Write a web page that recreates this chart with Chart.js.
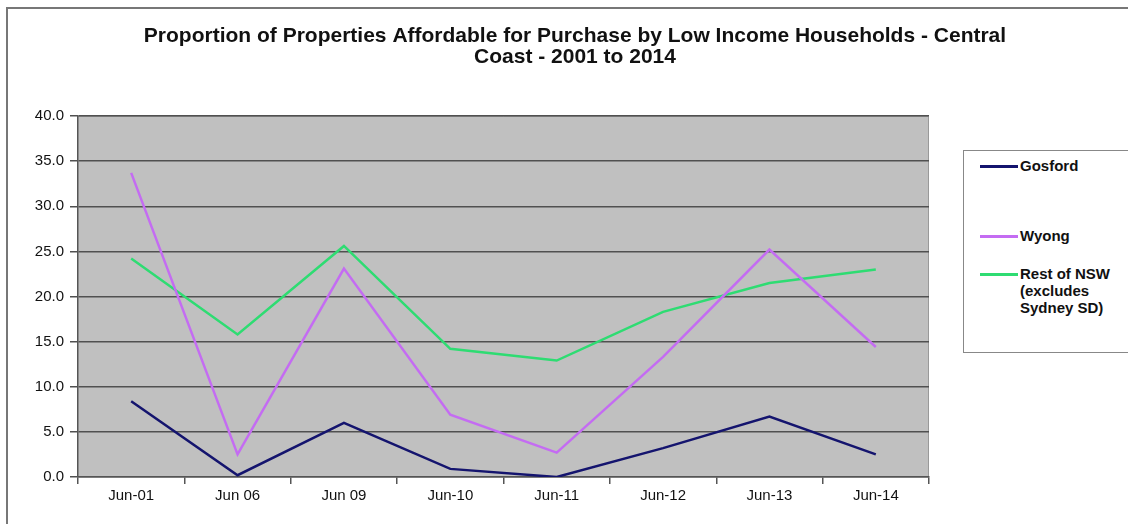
<!DOCTYPE html>
<html>
<head>
<meta charset="utf-8">
<script src="https://cdn.jsdelivr.net/npm/chart.js@4/dist/chart.umd.min.js"></script>
<style>
  html, body { margin: 0; padding: 0; background: #fff; }
  #wrap { position: relative; width: 1128px; height: 524px; }
  #frame { position: absolute; left: 6px; top: 7px; right: 0; bottom: 0;
    border-left: 2px solid #777; border-top: 2px solid #777; pointer-events: none; }
  #legend { position: absolute; left: 963px; top: 150px; width: 170px; height: 201px;
    border: 1px solid #888; background: #fff;
    font: bold 15px "Liberation Sans", Arial, sans-serif; color: #111; }
  .item { position: absolute; left: 16px; display: flex; align-items: flex-start; }
  .swatch { width: 38px; height: 3px; margin-top: 8px; margin-right: 2px; }
</style>
</head>
<body>
<div id="wrap">
  <canvas id="chart" width="1128" height="524"></canvas>
  <div id="frame"></div>
  <div id="legend"></div>
</div>
<script>
// data
const categories = ['Jun-01', 'Jun 06', 'Jun 09', 'Jun-10', 'Jun-11', 'Jun-12', 'Jun-13', 'Jun-14'];
const gosford = [8.4, 0.2, 6.0, 0.9, 0.0, 3.2, 6.7, 2.5];
const wyong = [33.7, 2.5, 23.1, 6.9, 2.7, 13.3, 25.2, 14.4];
const restOfNsw = [24.2, 15.8, 25.6, 14.2, 12.9, 18.3, 21.5, 23.0];
const seriesNames = ['Gosford', 'Wyong', ['Rest of NSW', '(excludes', 'Sydney SD)']];
const yTicks = [0, 5, 10, 15, 20, 25, 30, 35, 40];

const colors = ['#14146e', '#c46cf2', '#2edc72'];
const FONT = '"Liberation Sans", Arial, sans-serif';

const plotBg = {
  id: 'plotBg',
  beforeDraw(chart) {
    const a = chart.chartArea, ctx = chart.ctx;
    ctx.save();
    ctx.fillStyle = '#c0c0c0';
    ctx.fillRect(a.left, a.top, a.right - a.left, a.bottom - a.top);
    ctx.strokeStyle = '#999';
    ctx.lineWidth = 1;
    ctx.beginPath();
    ctx.moveTo(a.left, a.top + 0.5);
    ctx.lineTo(a.right - 0.5, a.top + 0.5);
    ctx.lineTo(a.right - 0.5, a.bottom);
    ctx.stroke();
    ctx.restore();
  }
};

const chart = new Chart(document.getElementById('chart'), {
  type: 'line',
  data: {
    labels: categories,
    datasets: [gosford, wyong, restOfNsw].map((d, i) => ({
      label: seriesNames[i],
      data: d,
      borderColor: colors[i],
      backgroundColor: colors[i],
      borderWidth: 2.5,
      pointRadius: 0,
      tension: 0
    }))
  },
  options: {
    responsive: false,
    animation: false,
    layout: { padding: { left: 22, right: 0, top: 0, bottom: 16 } },
    plugins: {
      legend: { display: false },
      tooltip: { enabled: false },
      title: {
        display: true,
        text: ['Proportion of Properties Affordable for Purchase by Low Income Households - Central', 'Coast - 2001 to 2014'],
        color: '#111',
        font: { family: FONT, size: 21, weight: 'bold', lineHeight: 1.0 },
        padding: { top: 26, bottom: 48 }
      }
    },
    scales: {
      x: {
        offset: true,
        grid: { offset: true, drawOnChartArea: false, drawTicks: true, tickLength: 7, color: '#555', lineWidth: 1.5 },
        border: { color: '#555', width: 1.5 },
        ticks: { color: '#111', font: { family: FONT, size: 15 }, padding: 3, maxRotation: 0 }
      },
      y: {
        min: 0, max: 40,
        afterFit(s) { s.width = 56; },
        afterBuildTicks(s) { s.ticks = yTicks.map(v => ({ value: v })); },
        grid: { color: '#505050', lineWidth: 1.5, drawTicks: true, tickLength: 8 },
        border: { color: '#555', width: 1.5 },
        ticks: { color: '#111', font: { family: FONT, size: 15 }, padding: 6,
          callback: v => v.toFixed(1) }
      },
      // empty axis on the right that reserves room for the legend box
      side: {
        position: 'right',
        min: 0, max: 40,
        afterFit(s) { s.width = 199; },
        grid: { display: false },
        border: { display: false },
        ticks: { display: false }
      }
    }
  },
  plugins: [plotBg]
});

// legend box on the right, built from the datasets
const legend = document.getElementById('legend');
const tops = [6, 76, 114];
chart.data.datasets.forEach((ds, i) => {
  const item = document.createElement('div');
  item.className = 'item';
  item.style.top = tops[i] + 'px';
  const sw = document.createElement('div');
  sw.className = 'swatch';
  sw.style.background = ds.borderColor;
  const txt = document.createElement('div');
  txt.style.lineHeight = '17px';
  txt.innerHTML = [].concat(ds.label).join('<br>');
  item.appendChild(sw);
  item.appendChild(txt);
  legend.appendChild(item);
});
</script>
</body>
</html>
